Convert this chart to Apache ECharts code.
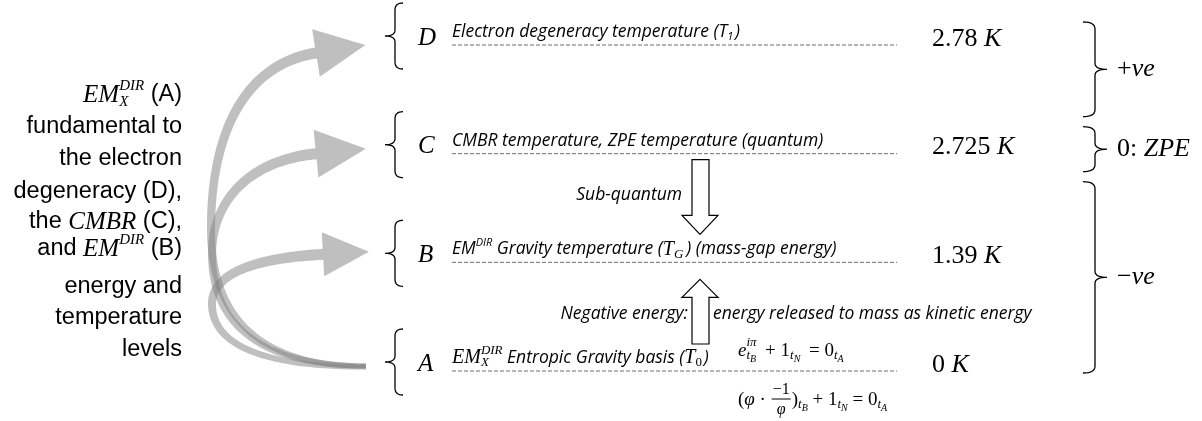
<!DOCTYPE html>
<html><head><meta charset="utf-8">
<script src="https://cdn.jsdelivr.net/npm/echarts@6/dist/echarts.min.js"></script>
<style>html,body{margin:0;padding:0;background:#fff}#c{width:1202px;height:421px}</style>
</head><body><div id="c"></div>
<script>
// ---------------- DATA ----------------
const levels = ['A', 'B', 'C', 'D'];                       // bottom -> top
const temperatureValues = [0, 1.39, 2.725, 2.78];          // K
const temperatureUnit = 'K';
const levelDescriptions = [
  [{c:'dmi',s:'EM'},{mark:1},{c:'dmiSup',s:'DIR'},{back:1},{c:'dmiSub',s:'X'},{join:1},
   {c:'desc',s:' Entropic Gravity basis ('},{c:'dmi',s:'T'},{c:'dmnSub',s:'0'},{c:'desc',s:'\u200a)'}],
  [{c:'desc',s:'EM'},{c:'descSup',s:'DIR'},{c:'desc',s:' Gravity temperature ('},{c:'dmi',s:'T'},
   {c:'dmiSub',s:'G'},{c:'desc',s:'\u2009) (mass-gap energy)'}],
  [{c:'desc',s:'CMBR temperature, ZPE temperature (quantum)'}],
  [{c:'desc',s:'Electron degeneracy temperature (T'},{c:'descSub',s:'1'},{c:'desc',s:'\u200a)'}]
];
const signGroups = ['+ve', '0: ZPE', '\u2212ve'];
const subQuantumLabel = 'Sub-quantum';
const negativeEnergyLabel = 'Negative energy:';
const releasedLabel = 'energy released to mass as kinetic energy';
const leftLines = [
  [{c:'lmi',s:'EM'},{mark:1},{c:'lsup',s:'DIR'},{back:1},{c:'lsub',s:'X'},{join:1},{c:'ln',s:' (A)'}],
  [{c:'ln',s:'fundamental to'}],
  [{c:'ln',s:'the electron'}],
  [{c:'ln',s:'degeneracy (D),'}],
  [{c:'ln',s:'the '},{c:'lmi',s:'CMBR'},{c:'ln',s:' (C),'}],
  [{c:'ln',s:'and '},{c:'lmi',s:'EM'},{c:'lsup',s:'DIR'},{c:'ln',s:' (B)'}],
  [{c:'ln',s:'energy and'}],
  [{c:'ln',s:'temperature'}],
  [{c:'ln',s:'levels'}]
];
const equation1 = [{c:'emi',s:'e'},{mark:1},{c:'esup',s:'i\u03c0'},{back:1},{c:'esub',s:'t'},{c:'essub',s:'B'},{join:1},
  {c:'en',s:' \u2009+ 1'},{c:'esub',s:'t'},{c:'essub',s:'N'},{c:'en',s:' \u2009= 0'},{c:'esub',s:'t'},{c:'essub',s:'A'}];
const equation2 = [{c:'en',s:'('},{c:'emi',s:'\u03c6'},{c:'en',s:' \u00b7 '},{c:'efrac',frac:['\u22121','\u03c6']},
  {c:'en',s:')'},{c:'esub',s:'t'},{c:'essub',s:'B'},{c:'en',s:' + 1'},{c:'esub',s:'t'},{c:'essub',s:'N'},
  {c:'en',s:' = 0'},{c:'esub',s:'t'},{c:'essub',s:'A'}];

// ---------------- STYLES ----------------
const INK = '#000';
const SERIF = '"Liberation Serif"';
const SANSI = '"Open Sans"';
const STYLE = {
  desc:   {font:'italic 17.5px ' + SANSI, dy:0},
  descSub:{font:'italic 11px ' + SANSI, dy:5},
  descSup:{font:'italic 11px ' + SANSI, dy:-6},
  dmi:    {font:'italic 20px ' + SERIF, dy:0},
  dmiSub: {font:'italic 13px ' + SERIF, dy:5},
  dmnSub: {font:'13px ' + SERIF, dy:5},
  dmiSup: {font:'italic 13px ' + SERIF, dy:-7},
  letter: {font:'italic 25px ' + SERIF, dy:0},
  tn:     {font:'26px ' + SERIF, dy:0},
  tmi:    {font:'italic 26px ' + SERIF, dy:0},
  ln:     {font:'23.5px "Liberation Sans"', dy:0},
  lmi:    {font:'italic 25px ' + SERIF, dy:0},
  lsup:   {font:'italic 15px ' + SERIF, dy:-9},
  lsub:   {font:'italic 15px ' + SERIF, dy:7},
  en:     {font:'19px ' + SERIF, dy:0},
  emi:    {font:'italic 19px ' + SERIF, dy:0},
  esup:   {font:'italic 13px ' + SERIF, dy:-8},
  esub:   {font:'italic 13px ' + SERIF, dy:5},
  essub:  {font:'italic 10px ' + SERIF, dy:8},
  efrac:  {font:'16px ' + SERIF, fontD:'italic 16px ' + SERIF, off:10},
  note:   {font:'italic 17.5px ' + SANSI, dy:0}
};

const mctx = document.createElement('canvas').getContext('2d');
function tw(s, font) { mctx.font = font; return mctx.measureText(s).width; }

function layoutTokens(tokens, x0, yMid, align) {
  let x = 0, markX = 0, maxX = 0;
  const items = [];
  for (const t of tokens) {
    if (t.mark) { markX = x; maxX = x; continue; }
    if (t.back) { maxX = Math.max(maxX, x); x = markX; continue; }
    if (t.join) { x = Math.max(x, maxX); continue; }
    const st = STYLE[t.c];
    if (t.frac) {
      const wn = tw(t.frac[0], st.font), wd = tw(t.frac[1], st.fontD);
      const w = Math.max(wn, wd) + 4;
      items.push({kind:'text', s:t.frac[0], font:st.font, x:x + (w - wn) / 2, dy:-st.off});
      items.push({kind:'text', s:t.frac[1], font:st.fontD, x:x + (w - wd) / 2, dy:st.off});
      items.push({kind:'line', x1:x + 1, x2:x + w - 1, dy:-1});
      x += w; continue;
    }
    items.push({kind:'text', s:t.s, font:st.font, x:x, dy:st.dy || 0});
    x += tw(t.s, st.font);
  }
  const shift = align === 'right' ? x0 - x : (align === 'center' ? x0 - x / 2 : x0);
  return items.map(it => it.kind === 'line'
    ? {type:'line', silent:true, shape:{x1:it.x1 + shift, y1:yMid + it.dy, x2:it.x2 + shift, y2:yMid + it.dy},
       style:{stroke:INK, lineWidth:1}}
    : {type:'text', silent:true, style:{text:it.s, x:it.x + shift, y:yMid + it.dy, font:it.font, fill:INK,
       align:'left', verticalAlign:'middle'}});
}

// curly brace as a sampled polyline
function quad(p0, p1, p2, out) {
  for (let i = 1; i <= 8; i++) {
    const t = i / 8, u = 1 - t;
    out.push([u*u*p0[0] + 2*u*t*p1[0] + t*t*p2[0], u*u*p0[1] + 2*u*t*p1[1] + t*t*p2[1]]);
  }
}
function bracePoints(x, top, bot, tipX, hookX) {
  const m = (top + bot) / 2, pts = [[hookX, top]];
  quad([hookX, top], [x, top], [x, top + 7], pts);
  pts.push([x, m - 6]);
  quad([x, m - 6], [x, m], [tipX, m], pts);
  quad([tipX, m], [x, m], [x, m + 6], pts);
  pts.push([x, bot - 7]);
  quad([x, bot - 7], [x, bot], [hookX, bot], pts);
  return pts;
}

function renderLevel(params, api) {
  const i = params.dataIndex;
  const y = api.coord([api.value(0), api.value(1)])[1];
  const ch = [];
  ch.push({type:'line', silent:true, shape:{x1:452, y1:y, x2:897, y2:y},
    style:{stroke:'#6e6e6e', lineWidth:1, lineDash:[4, 2]}});
  const bc = y - 9;
  ch.push({type:'polyline', silent:true, shape:{points:bracePoints(395, bc - 33, bc + 33, 385, 403)},
    style:{stroke:INK, fill:'none', lineWidth:1.3}});
  ch.push(...layoutTokens([{c:'letter', s:levels[i]}], 418, y - 7, 'left'));
  ch.push(...layoutTokens(levelDescriptions[i], 452, y - 13, 'left'));
  ch.push(...layoutTokens([{c:'tn', s:String(temperatureValues[i]) + ' '}, {c:'tmi', s:temperatureUnit}], 932, y - 6, 'left'));
  return {type:'group', children:ch};
}

const chart = echarts.init(document.getElementById('c'), null, {renderer:'canvas'});
chart.setOption({
  animation:false,
  grid:{left:0, right:0, top:45, bottom:50},
  xAxis:{type:'value', min:0, max:1202, show:false},
  yAxis:{type:'category', data:levels, boundaryGap:false, show:false},
  series:[{
    type:'custom', coordinateSystem:'cartesian2d', clip:false,
    data:levels.map((l, i) => [0, i]),
    encode:{x:0, y:1},
    renderItem:renderLevel
  }]
});

// ---------------- decorations positioned from the level axis ----------------
const yOf = i => chart.convertToPixel({yAxisIndex:0}, i);
const yA = yOf(0), yB = yOf(1), yC = yOf(2), yD = yOf(3);

function bez(p, t) {
  const u = 1 - t;
  return [0, 1].map(k => u*u*u*p[0][k] + 3*u*u*t*p[1][k] + 3*u*t*t*p[2][k] + t*t*t*p[3][k]);
}
function curvedArrow(o) {
  const dl = Math.hypot(o.dir[0], o.dir[1]);
  const d = [o.dir[0] / dl, o.dir[1] / dl];
  const S = o.S, M = o.M, Bp = o.Bp;
  const s1 = [S, [S[0] - o.a, S[1]], [M[0], M[1] + o.b], M];
  const s2 = [M, [M[0], M[1] - o.k1], [Bp[0] - d[0] * o.k2, Bp[1] - d[1] * o.k2], Bp];
  const pts = [];
  for (let i = 0; i <= 40; i++) pts.push(bez(s1, i / 40));
  for (let i = 1; i <= 40; i++) pts.push(bez(s2, i / 40));
  const n = pts.length, L = [], R = [];
  for (let i = 0; i < n; i++) {
    const a = pts[Math.max(i - 1, 0)], b = pts[Math.min(i + 1, n - 1)];
    let tx = b[0] - a[0], ty = b[1] - a[1];
    const tl = Math.hypot(tx, ty) || 1; tx /= tl; ty /= tl;
    const w = (o.w0 + (o.w1 - o.w0) * i / (n - 1)) / 2;
    L.push([pts[i][0] - ty * w, pts[i][1] + tx * w]);
    R.push([pts[i][0] + ty * w, pts[i][1] - tx * w]);
  }
  const nr = [-d[1], d[0]];
  const tip = [Bp[0] + d[0] * o.hl, Bp[1] + d[1] * o.hl];
  const h1 = [Bp[0] + nr[0] * o.hw, Bp[1] + nr[1] * o.hw];
  const h2 = [Bp[0] - nr[0] * o.hw, Bp[1] - nr[1] * o.hw];
  const poly = L.concat([h1, tip, h2]).concat(R.reverse());
  return {type:'polygon', silent:true, shape:{points:poly}, style:{fill:'rgba(128,128,128,0.5)'}};
}

const S = [366, yA - 5];
const graphics = [];
graphics.push(curvedArrow({S:S, M:[211, S[1] - 137], a:105, b:90, k1:100, Bp:[316, yD + 8], dir:[50, -8], k2:70, w0:5, w1:11, hl:50, hw:24}));
graphics.push(curvedArrow({S:S, M:[212, S[1] - 112], a:100, b:75, k1:55, Bp:[316, yC], dir:[50, -5], k2:65, w0:5, w1:11, hl:50, hw:24}));
graphics.push(curvedArrow({S:[366, S[1] + 1], M:[212, S[1] - 62], a:105, b:40, k1:30, Bp:[323, yB - 8], dir:[46, -2.5], k2:70, w0:5, w1:11, hl:46, hw:22}));

// hollow vertical arrows
const hollow = pts => ({type:'polygon', silent:true, shape:{points:pts}, style:{fill:'#fff', stroke:INK, lineWidth:1.2}});
graphics.push(hollow([[692, yC + 6], [709, yC + 6], [709, yB - 47], [718, yB - 47], [700, yB - 28], [682, yB - 47], [692, yB - 47]]));
graphics.push(hollow([[700, yB + 17], [718, yB + 35], [709, yB + 35], [709, yA - 27], [692, yA - 27], [692, yB + 35], [682, yB + 35]]));

graphics.push(...layoutTokens([{c:'note', s:subQuantumLabel}], 682, (yC + yB) / 2 - 13, 'right'));
graphics.push(...layoutTokens([{c:'note', s:negativeEnergyLabel}], 688, yB + 52, 'right'));
graphics.push(...layoutTokens([{c:'note', s:releasedLabel}], 713, yB + 52, 'left'));

graphics.push(...layoutTokens(equation1, 738, yA - 20, 'left'));
graphics.push(...layoutTokens(equation2, 738, yA + 29, 'left'));

// right braces
const groups = [[yD - 23, yC - 37], [yC - 27, yC + 18], [yC + 28, yA + 2]];
const signTokens = [
  [{c:'tn', s:signGroups[0].charAt(0)}, {c:'tmi', s:signGroups[0].slice(1)}],
  [{c:'tn', s:signGroups[1].slice(0, 3)}, {c:'tmi', s:signGroups[1].slice(3)}],
  [{c:'tn', s:signGroups[2].charAt(0)}, {c:'tmi', s:signGroups[2].slice(1)}]
];
groups.forEach((g, i) => {
  graphics.push({type:'polyline', silent:true, shape:{points:bracePoints(1095, g[0], g[1], 1107, 1083)},
    style:{stroke:INK, fill:'none', lineWidth:1.3}});
  graphics.push(...layoutTokens(signTokens[i], 1117, (g[0] + g[1]) / 2, 'left'));
});

// left explanatory text
const leftLineY = [95, 127, 159, 192, 222, 249, 287, 318, 350];
leftLines.forEach((ln, i) => graphics.push(...layoutTokens(ln, 182, leftLineY[i], 'right')));

chart.setOption({graphic:{elements:graphics}});
</script>
</body></html>
